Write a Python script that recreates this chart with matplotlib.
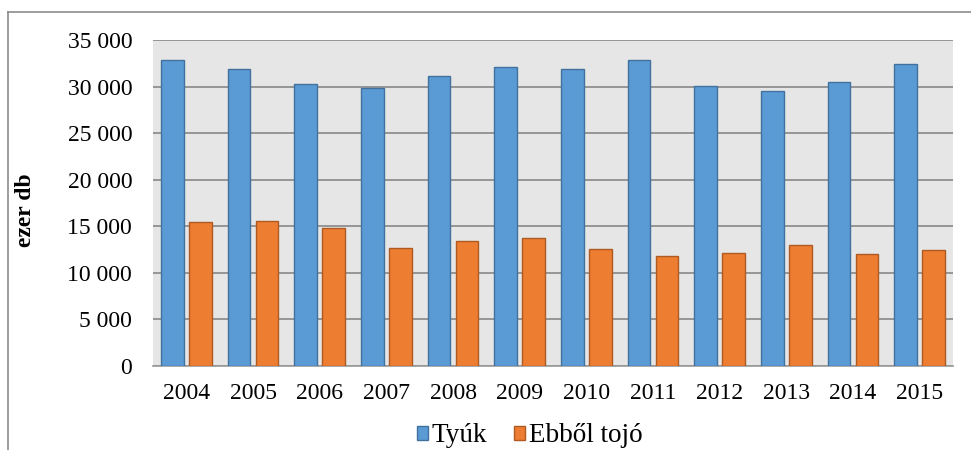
import numpy as np
import matplotlib
matplotlib.use("Agg")
import matplotlib.pyplot as plt
from matplotlib.patches import Patch
from matplotlib.lines import Line2D
from matplotlib.ticker import FuncFormatter

# adatok (ezer db)
evek = ["2004", "2005", "2006", "2007", "2008", "2009",
        "2010", "2011", "2012", "2013", "2014", "2015"]
tyuk = [32800, 31900, 30300, 29900, 31100, 32100,
        31900, 32900, 30100, 29500, 30500, 32400]
tojo = [15500, 15550, 14850, 12700, 13400, 13700,
        12600, 11800, 12150, 13000, 12050, 12450]

plt.rcParams['font.family'] = ['Liberation Serif', 'DejaVu Serif']

kek = "#5b9bd5"
narancs = "#ed7d31"

fig = plt.figure(figsize=(9.71, 4.5), dpi=100)
ax = fig.add_axes([153/971, 84/450, 800/971, 326/450])
ax.set_facecolor("#e6e6e6")

x = np.arange(len(evek))
sz = 0.34
ax.bar(x - 0.21, tyuk, sz, color=kek, edgecolor="#41719c", linewidth=1.0, zorder=3)
ax.bar(x + 0.21, tojo, sz, color=narancs, edgecolor="#ae5a21", linewidth=1.0, zorder=3)

ax.set_xlim(-0.5, len(evek) - 0.5)
ax.set_ylim(0, 35000)
ax.set_yticks(np.arange(0, 35001, 5000))
ax.yaxis.set_major_formatter(FuncFormatter(lambda v, p: f"{int(v):,}".replace(",", " ")))
ax.set_xticks(x)
ax.set_xticklabels(evek)
ax.tick_params(axis="y", length=0, pad=15, labelsize=17)
ax.tick_params(axis="x", length=0, pad=12, labelsize=17)
ax.grid(axis="y", color="#888888", linewidth=1.2, zorder=0)
ax.set_axisbelow(True)
for s in ["left", "right", "top"]:
    ax.spines[s].set_visible(False)
ax.spines["bottom"].set_color("#999999")
ax.spines["bottom"].set_linewidth(1.2)

ax.set_ylabel("ezer db", fontsize=17, fontweight="bold")
ax.yaxis.set_label_coords(-0.146, 0.479)

# jelmagyarazat
kezelok = [Patch(facecolor=kek, edgecolor="#41719c", label="Tyúk"),
           Patch(facecolor=narancs, edgecolor="#ae5a21", label="Ebből tojó")]
fig.legend(handles=kezelok, loc="center", bbox_to_anchor=(530/971, 1 - 436/450),
           ncol=2, frameon=False, fontsize=19.5, handlelength=0.4, handleheight=0.4,
           handletextpad=0.15, columnspacing=1.0)

# keret
fig.add_artist(Line2D([8/971, 8/971], [0, 1 - 12/450], color="#8c8c8c", linewidth=1.2))
fig.add_artist(Line2D([8/971, 1], [1 - 12/450, 1 - 12/450], color="#8c8c8c", linewidth=1.2))

fig.savefig("out.png", dpi=100)
